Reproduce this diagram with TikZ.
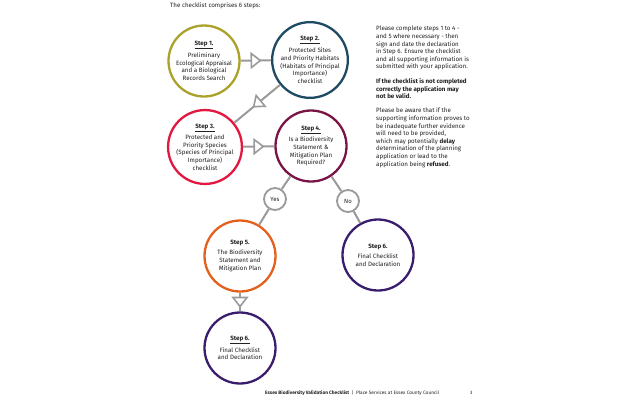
\documentclass[tikz,border=0pt]{standalone}
\usepackage{fontspec}
\setmainfont{Fira Sans}
\usetikzlibrary{decorations.markings}
\definecolor{cone}{HTML}{ABA22B}
\definecolor{ctwo}{HTML}{1E4A64}
\definecolor{cthree}{HTML}{E3173F}
\definecolor{cfour}{HTML}{7A1447}
\definecolor{cfive}{HTML}{E4601D}
\definecolor{csix}{HTML}{3B1D6E}
\definecolor{lgray}{HTML}{9A9A9A}
\definecolor{txt}{HTML}{222222}
\tikzset{
  stepc/.style={circle, draw, line width=2.3pt, minimum size=71pt, inner sep=0pt, align=center, fill=white, text=txt,
    font=\fontsize{6.2}{7.7}\selectfont},
  yn/.style={circle, draw=lgray, line width=1.8pt, minimum size=22pt, inner sep=0pt, fill=white, text=txt,
    font=\fontsize{6}{7}\selectfont},
  conn/.style={draw=lgray, line width=2pt},
  tri/.style={postaction=decorate, decoration={markings, mark=at position 0.5 with {\draw[lgray, line width=1.6pt, fill=white, line join=miter] (-4.5pt,-7pt) -- (4.5pt,0pt) -- (-4.5pt,7pt) -- cycle;}}},
  plain/.style={inner sep=0pt, text=txt, font=\fontsize{6.2}{7.6}\selectfont}
}
\newcommand{\stp}[1]{\underline{\textbf{#1}}\\[2.5pt]}
\begin{document}
\begin{tikzpicture}[x=1pt,y=-1pt]
\useasboundingbox[fill=white] (0,0) rectangle (640,400);

\node[plain, anchor=west] (title) at (170,6) {The checklist comprises 6 steps:};

\node[stepc, draw=cone] (s1) at (204,61) {\stp{Step 1.}Preliminary\\Ecological Appraisal\\and a Biological\\Records Search};
\node[stepc, draw=ctwo] (s2) at (310,60) {\stp{Step 2.}Protected Sites\\and Priority Habitats\\(Habitats of Principal\\Importance)\\checklist};
\node[stepc, draw=cthree] (s3) at (205,147) {\stp{Step 3.}Protected and\\Priority Species\\(Species of Principal\\Importance)\\checklist};
\node[stepc, draw=cfour] (s4) at (311,146) {\stp{Step 4.}Is a Biodiversity\\Statement \&\\Mitigation Plan\\Required?};
\node[yn] (yes) at (275,199) {Yes};
\node[yn] (no) at (348,201) {No};
\node[stepc, draw=cfive] (s5) at (240,256) {\textbf{Step 5.}\\[2.5pt]The Biodiversity\\Statement and\\Mitigation Plan};
\node[stepc, draw=csix] (s6a) at (378,255) {\textbf{Step 6.}\\[2.5pt]Final Checklist\\and Declaration};
\node[stepc, draw=csix] (s6b) at (240,348) {\stp{Step 6.}Final Checklist\\and Declaration};

\path[conn, tri] (s1) -- (s2);
\path[conn, tri] (s2) -- (s3);
\path[conn, tri] (s3) -- (s4);
\path[conn] (s4) -- (yes);
\path[conn] (yes) -- (s5);
\path[conn] (s4) -- (no);
\path[conn] (no) -- (s6a);
\path[conn, tri] (s5) -- (s6b);

\node[plain, anchor=north west, align=left] (info) at (376,26) {Please complete steps 1 to 4 -\\and 5 where necessary - then\\sign and date the declaration\\in Step 6. Ensure the checklist\\and all supporting information is\\submitted with your application.\\[7pt]
\textbf{If the checklist is not completed}\\\textbf{correctly the application may}\\\textbf{not be valid.}\\[6.6pt]
Please be aware that if the\\supporting information proves to\\be inadequate further evidence\\will need to be provided,\\which may potentially \textbf{delay}\\determination of the planning\\application or lead to the\\application being \textbf{refused}.};

\node[plain, anchor=west, font=\fontsize{4.8}{6}\selectfont] (foot) at (265,393) {\textbf{Essex Biodiversity Validation Checklist}\enspace|\enspace Place Services at Essex County Council};
\node[plain, anchor=west, font=\fontsize{4.8}{6}\selectfont] (page) at (470,393) {3};
\end{tikzpicture}
\end{document}
